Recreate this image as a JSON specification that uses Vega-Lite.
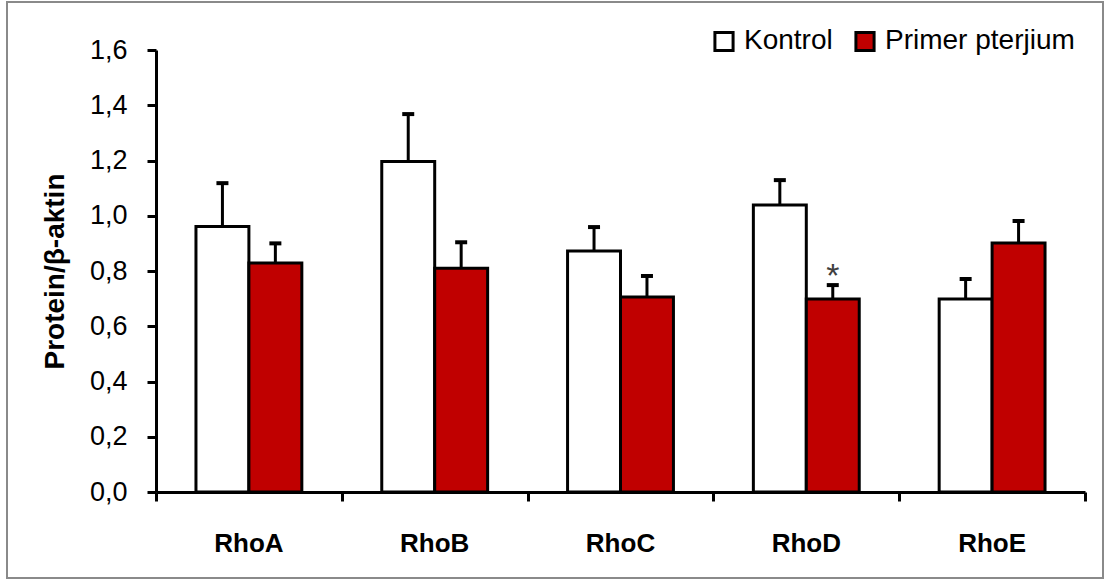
{
  "$schema": "https://vega.github.io/schema/vega-lite/v6.json",
  "width": 1096,
  "height": 576,
  "autosize": "none",
  "padding": {"left": 7, "top": 2, "right": 2, "bottom": 3},
  "background": "white",
  "config": {
    "view": {"stroke": "#8a8a8a", "strokeWidth": 2},
    "font": "Liberation Sans"
  },
  "data": {
    "values": [
      {"gene": "RhoA", "group": "Kontrol", "value": 0.961, "hi": 1.118, "sig": ""},
      {"gene": "RhoA", "group": "Primer pterjium", "value": 0.829, "hi": 0.9, "sig": ""},
      {"gene": "RhoB", "group": "Kontrol", "value": 1.196, "hi": 1.368, "sig": ""},
      {"gene": "RhoB", "group": "Primer pterjium", "value": 0.81, "hi": 0.904, "sig": ""},
      {"gene": "RhoC", "group": "Kontrol", "value": 0.872, "hi": 0.959, "sig": ""},
      {"gene": "RhoC", "group": "Primer pterjium", "value": 0.706, "hi": 0.782, "sig": ""},
      {"gene": "RhoD", "group": "Kontrol", "value": 1.039, "hi": 1.129, "sig": ""},
      {"gene": "RhoD", "group": "Primer pterjium", "value": 0.699, "hi": 0.749, "sig": "*"},
      {"gene": "RhoE", "group": "Kontrol", "value": 0.699, "hi": 0.771, "sig": ""},
      {"gene": "RhoE", "group": "Primer pterjium", "value": 0.901, "hi": 0.981, "sig": ""}
    ]
  },
  "layer": [
    {
      "encoding": {
        "x": {
          "field": "gene",
          "type": "nominal",
          "sort": ["RhoA", "RhoB", "RhoC", "RhoD", "RhoE"],
          "scale": {"range": [149, 1078], "paddingInner": 0, "paddingOuter": 0},
          "axis": {
            "orient": "bottom",
            "offset": -86,
            "title": null,
            "domain": false,
            "ticks": false,
            "tickSize": 0,
            "labelAngle": 0,
            "labelFontSize": 26,
            "labelFontWeight": "bold",
            "labelColor": "black",
            "labelPadding": 38,
            "grid": false
          }
        },
        "xOffset": {
          "field": "group",
          "type": "nominal",
          "scale": {"paddingInner": 0, "paddingOuter": 0.755}
        }
      },
      "layer": [
        {
          "mark": {"type": "bar", "stroke": "black", "strokeWidth": 3},
          "encoding": {
            "y": {
              "field": "value",
              "type": "quantitative",
              "scale": {"domain": [0, 1.6], "range": [490, 48], "nice": false},
              "axis": {
                "orient": "left",
                "offset": -149,
                "values": [0, 0.2, 0.4, 0.6, 0.8, 1.0, 1.2, 1.4, 1.6],
                "labelExpr": "replace(format(datum.value, '.1f'), '.', ',')",
                "title": "Protein/β-aktin",
                "titleFontSize": 28,
                "titleFontWeight": "bold",
                "titleColor": "black",
                "titlePadding": 20,
                "labelFontSize": 27,
                "labelColor": "black",
                "labelPadding": 20,
                "tickSize": 9,
                "tickWidth": 3,
                "tickColor": "black",
                "domainColor": "black",
                "domainWidth": 3,
                "grid": false
              }
            },
            "fill": {
              "field": "group",
              "type": "nominal",
              "scale": {"domain": ["Kontrol", "Primer pterjium"], "range": ["white", "#C00000"]},
              "legend": {
                "orient": "none",
                "legendX": 703,
                "legendY": 25,
                "direction": "horizontal",
                "title": null,
                "labelFontSize": 28,
                "labelColor": "black",
                "labelLimit": 400,
                "symbolType": "square",
                "symbolSize": 330,
                "symbolStrokeColor": "black",
                "symbolStrokeWidth": 3,
                "symbolOpacity": 1,
                "labelOffset": 6,
                "columnPadding": 16
              }
            }
          }
        },
        {
          "mark": {"type": "rule", "stroke": "black", "strokeWidth": 3},
          "encoding": {
            "y": {"field": "value", "type": "quantitative"},
            "y2": {"field": "hi"}
          }
        },
        {
          "mark": {"type": "tick", "orient": "horizontal", "color": "black", "size": 12, "thickness": 4, "opacity": 1},
          "encoding": {
            "y": {"field": "hi", "type": "quantitative"}
          }
        },
        {
          "transform": [{"filter": "datum.sig != ''"}],
          "mark": {"type": "text", "fontSize": 34, "color": "#404040", "baseline": "alphabetic", "dy": 2},
          "encoding": {
            "y": {"field": "hi", "type": "quantitative"},
            "text": {"field": "sig"}
          }
        }
      ]
    },
    {
      "mark": {"type": "rule", "strokeOpacity": 0},
      "encoding": {
        "x": {
          "datum": 0,
          "type": "quantitative",
          "scale": {"domain": [0, 5], "range": [149, 1078], "nice": false, "zero": false},
          "axis": {
            "orient": "bottom",
            "offset": -86,
            "values": [0, 1, 2, 3, 4, 5],
            "labels": false,
            "title": null,
            "grid": false,
            "tickSize": 9,
            "tickWidth": 3,
            "tickColor": "black",
            "domainColor": "black",
            "domainWidth": 3
          }
        }
      }
    }
  ],
  "resolve": {"scale": {"x": "independent"}, "axis": {"x": "independent"}}
}
